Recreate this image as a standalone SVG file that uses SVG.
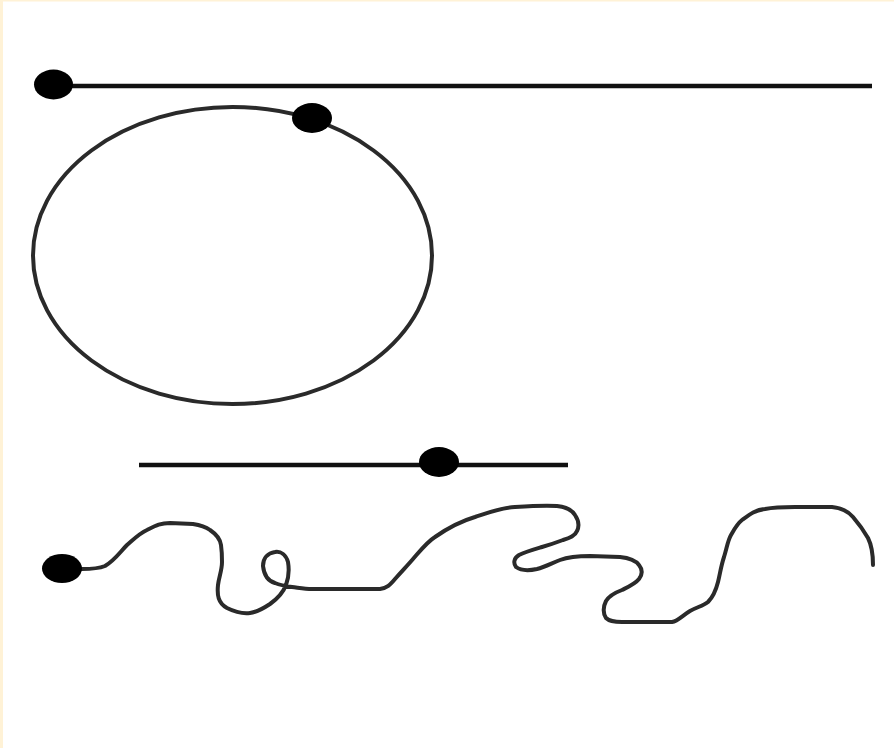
<svg xmlns="http://www.w3.org/2000/svg" width="894" height="748" viewBox="0 0 894 748">
  <style>
    .ln { fill: none; stroke: #111; stroke-width: 4.5; }
    .cv { fill: none; stroke: #2a2a2a; stroke-width: 4; stroke-linecap: round; stroke-linejoin: round; }
    .dot { fill: #000; }
  </style>
  <rect x="0" y="0" width="894" height="748" fill="#ffffff"/>
  <rect x="0" y="0" width="3" height="748" fill="#fff2d6"/>
  <rect x="0" y="0" width="894" height="1.5" fill="#fff2d6"/>

  <g id="top-line">
    <line class="ln" x1="54" y1="86" x2="872" y2="86"/>
    <ellipse class="dot" cx="53.5" cy="84.5" rx="19.5" ry="15"/>
  </g>

  <g id="ellipse">
    <ellipse class="cv" cx="232.5" cy="255.5" rx="199.5" ry="148.5"/>
    <ellipse class="dot" cx="312" cy="118" rx="20" ry="15"/>
  </g>

  <g id="middle-line">
    <line class="ln" x1="139" y1="465" x2="568" y2="465"/>
    <ellipse class="dot" cx="439" cy="462" rx="20" ry="15"/>
  </g>

  <g id="wavy">
    <path class="cv" d="M62 569 L82 569 C95 569 100 568 105 566 C115 560 120 552 127 545 C135 538 140 533 147 530 C155 526 160 523 170 523 L193 524 C200 525 206 527 210 530 C216 534 220 538 221 545 C222 552 222 557 222 562 C222 570 219 577 218 585 C217 595 218 603 227 608 C235 612 242 614 250 613 C258 612 264 608 270 604 C277 599 283 593 286 585 C289 577 289 568 288 562 C286 555 281 551 275 552 C268 553 263 558 263 566 C264 575 268 581 275 583 C280 585 285 586 292 587 C300 588 305 589 312 589 L380 589 C387 588 390 585 395 579 C402 571 407 566 413 559 C420 551 427 542 435 537 C445 530 458 522 475 517 C490 512 500 508 515 507 C530 506 545 505 557 506 C566 507 572 510 575 515 C579 521 579 527 577 531 C575 536 570 538 563 540 C555 543 549 545 542 547 C532 550 525 552 519 555 C514 558 513 563 516 567 C520 570 528 571 537 569 C545 567 552 563 560 560 C568 557 578 556 590 556 L620 557 C630 558 636 561 639 565 C643 570 642 575 639 579 C635 584 628 587 622 590 C614 593 609 596 606 601 C603 607 603 613 606 618 C609 621 614 622 622 622 L672 622 C678 621 683 615 690 611 C697 607 703 606 708 602 C714 596 716 590 718 582 C720 574 721 566 724 557 C727 547 728 540 731 535 C735 528 737 524 742 520 C750 514 755 510 765 509 C775 507 785 507 795 507 L832 507 C842 508 848 511 853 517 C859 524 864 531 868 538 C872 546 873 556 873 565"/>
    <ellipse class="dot" cx="62" cy="568.5" rx="20" ry="14.5"/>
  </g>
</svg>
